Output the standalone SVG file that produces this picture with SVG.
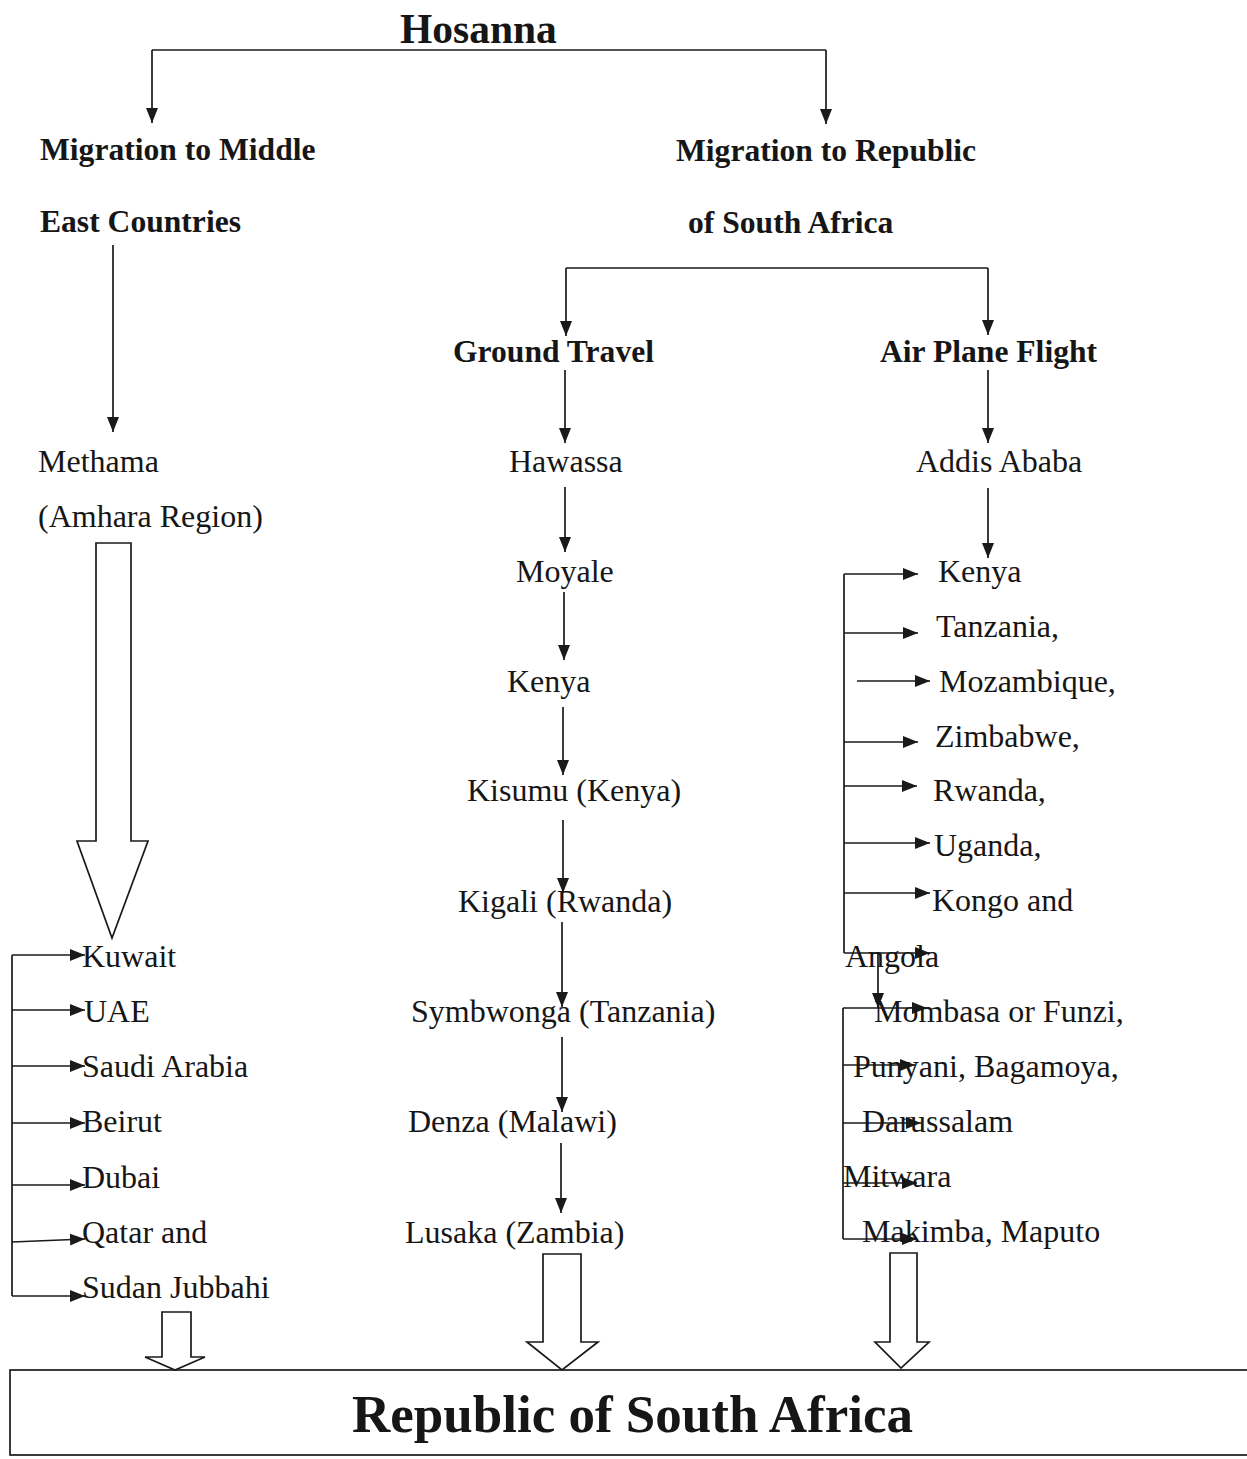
<svg xmlns="http://www.w3.org/2000/svg" width="1247" height="1459" viewBox="0 0 1247 1459">
<style>
text{font-family:"Liberation Serif","Times New Roman",serif;fill:#161616}
.r{font-size:32px}
.b{font-size:31.6px;font-weight:bold}
.ln{stroke:#1a1a1a;stroke-width:1.7;fill:none}
.la{stroke:#1a1a1a;stroke-width:1.7;fill:none;marker-end:url(#ah)}
.blk{stroke:#1a1a1a;stroke-width:1.7;fill:#fff}
</style>
<defs>
<marker id="ah" markerUnits="userSpaceOnUse" markerWidth="16" markerHeight="14" refX="15" refY="7" orient="auto">
<path d="M0,1 L15,7 L0,13 z" fill="#1a1a1a"/>
</marker>
</defs>
<rect width="1247" height="1459" fill="#fff"/>

<g id="connectors">
<path class="ln" d="M152,50 H826"/>
<path class="la" d="M152,50 V123"/>
<path class="la" d="M826,50 V124"/>
<path class="la" d="M113,245 V432"/>
<path class="ln" d="M566,268 H988"/>
<path class="la" d="M566,268 V336"/>
<path class="la" d="M988,268 V335"/>
<path class="la" d="M565,370 V443"/>
<path class="la" d="M565,487 V552"/>
<path class="la" d="M564,592 V660"/>
<path class="la" d="M563,707 V775"/>
<path class="la" d="M563,820 V893"/>
<path class="la" d="M562,922 V1007"/>
<path class="la" d="M562,1037 V1112"/>
<path class="la" d="M561,1143 V1213"/>
<path class="la" d="M988,370 V443"/>
<path class="la" d="M988,488 V558"/>
<path class="ln" d="M844,574 V953"/>
<path class="la" d="M844,574 H918"/>
<path class="la" d="M844,633 H918"/>
<path class="la" d="M857,681 H930"/>
<path class="la" d="M844,742 H918"/>
<path class="la" d="M844,786 H917"/>
<path class="la" d="M844,843 H930"/>
<path class="la" d="M844,893 H930"/>
<path class="la" d="M844,953 H930"/>
<path class="la" d="M878,953 V1008"/>
<path class="ln" d="M843,1008 V1239"/>
<path class="la" d="M843,1008 H927"/>
<path class="la" d="M843,1065 H915"/>
<path class="la" d="M843,1123 H921"/>
<path class="la" d="M843,1183 H917"/>
<path class="la" d="M843,1239 H917"/>
<path class="ln" d="M12,955 V1296"/>
<path class="la" d="M12,955 H85"/>
<path class="la" d="M12,1010 H85"/>
<path class="la" d="M12,1066 H85"/>
<path class="la" d="M12,1123 H85"/>
<path class="la" d="M12,1185 H85"/>
<path class="la" d="M12,1242 L85,1239"/>
<path class="la" d="M12,1296 H85"/>
<path class="blk" d="M96,543 H131 V841 H148 L112,938 L77,841 H96 Z"/>
<path class="blk" d="M162,1312 H191 V1357 H205 L175,1370 L145,1357 H162 Z"/>
<path class="blk" d="M543,1254 H581 V1342 H598 L562,1370 L527,1342 H543 Z"/>
<path class="blk" d="M890,1253 H917 V1342 H929 L901,1368 L875,1342 H890 Z"/>
</g>

<g id="hosanna"><text x="400" y="43" style="font-size:41.5px;font-weight:bold">Hosanna</text></g>
<g id="mideast"><text class="b" x="40" y="160">Migration to Middle</text><text class="b" x="40" y="232">East Countries</text></g>
<g id="rsa-migration"><text class="b" x="676" y="161">Migration to Republic</text><text class="b" x="688" y="233">of South Africa</text></g>
<g id="ground"><text class="b" x="453" y="362">Ground Travel</text></g>
<g id="air"><text class="b" x="880" y="362">Air Plane Flight</text></g>
<g id="methama"><text class="r" x="38" y="472">Methama</text><text class="r" x="38" y="527">(Amhara Region)</text></g>
<g id="hawassa"><text class="r" x="509" y="472">Hawassa</text></g>
<g id="moyale"><text class="r" x="516" y="582">Moyale</text></g>
<g id="kenya-g"><text class="r" x="507" y="692">Kenya</text></g>
<g id="kisumu"><text class="r" x="467" y="801">Kisumu (Kenya)</text></g>
<g id="kigali"><text class="r" x="458" y="912">Kigali (Rwanda)</text></g>
<g id="symbwonga"><text class="r" x="411" y="1022">Symbwonga (Tanzania)</text></g>
<g id="denza"><text class="r" x="408" y="1132">Denza (Malawi)</text></g>
<g id="lusaka"><text class="r" x="405" y="1243">Lusaka (Zambia)</text></g>
<g id="addis"><text class="r" x="916" y="472">Addis Ababa</text></g>
<g id="air-countries">
<text class="r" x="938" y="582">Kenya</text>
<text class="r" x="936" y="637">Tanzania,</text>
<text class="r" x="939" y="692">Mozambique,</text>
<text class="r" x="935" y="747">Zimbabwe,</text>
<text class="r" x="933" y="801">Rwanda,</text>
<text class="r" x="934" y="856">Uganda,</text>
<text class="r" x="932" y="911">Kongo and</text>
<text class="r" x="845" y="967">Angola</text>
</g>
<g id="air-ports">
<text class="r" x="874" y="1022">Mombasa or Funzi,</text>
<text class="r" x="853" y="1077">Punyani, Bagamoya,</text>
<text class="r" x="862" y="1132">Darussalam</text>
<text class="r" x="843" y="1187">Mitwara</text>
<text class="r" x="862" y="1242">Makimba, Maputo</text>
</g>
<g id="mideast-countries">
<text class="r" x="82" y="967">Kuwait</text>
<text class="r" x="84" y="1022">UAE</text>
<text class="r" x="82" y="1077">Saudi Arabia</text>
<text class="r" x="82" y="1132">Beirut</text>
<text class="r" x="82" y="1188">Dubai</text>
<text class="r" x="82" y="1243">Qatar and</text>
<text class="r" x="82" y="1298">Sudan Jubbahi</text>
</g>
<g id="rsa">
<rect x="10" y="1370" width="1240" height="85" fill="none" stroke="#1a1a1a" stroke-width="1.7"/>
<text x="352" y="1432" style="font-size:53px;font-weight:bold">Republic of South Africa</text>
</g>
</svg>
